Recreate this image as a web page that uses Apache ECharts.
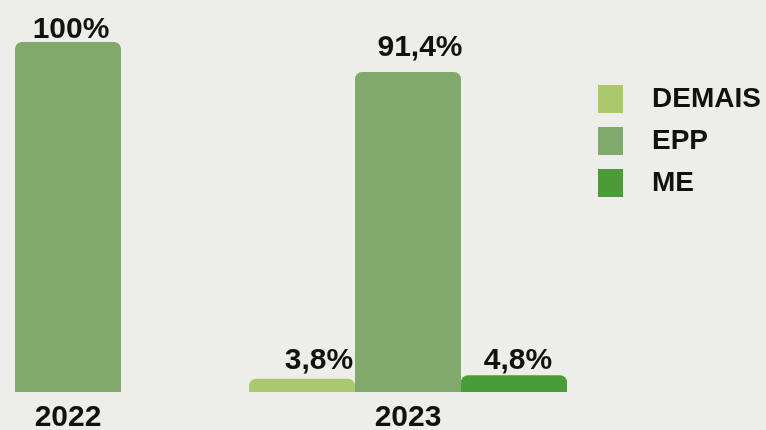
<!DOCTYPE html>
<html>
<head>
<meta charset="utf-8">
<script src="https://cdn.jsdelivr.net/npm/echarts@6/dist/echarts.min.js"></script>
<style>
html,body{margin:0;padding:0;background:#edeee9;}
#c{width:766px;height:430px;}
</style>
</head>
<body>
<div id="c"></div>
<script>
var categories = ['2022', '2023'];
var seriesNames = ['DEMAIS', 'EPP', 'ME'];
var demais = [null, 3.8];
var epp = [100, 91.4];
var me = [null, 4.8];
var colors = ['#a9c96c', '#80a96b', '#4b9c38'];
// label nudges (style only) per series, per category: [dx, dy]
var labelNudges = {
  DEMAIS: [null, [17, -2]],
  EPP: [[3, 4], [12, -8]],
  ME: [null, [4, 2]]
};

var chart = echarts.init(document.getElementById('c'));
var font = '"Liberation Sans", Arial, sans-serif';
function fmt(p) {
  return String(p.value).replace('.', ',') + '%';
}
function mk(name, data, color) {
  var items = data.map(function (v, i) {
    var n = labelNudges[name][i];
    if (v === null) return null;
    return n ? { value: v, label: { offset: n } } : v;
  });
  return {
    name: name,
    type: 'bar',
    data: items,
    barWidth: 106,
    barGap: '0%',
    clip: false,
    itemStyle: { color: color, borderRadius: [7, 7, 0, 0] },
    label: {
      show: true, position: 'top', distance: 1, formatter: fmt,
      fontFamily: font, fontWeight: 'bold', fontSize: 30, color: '#111'
    }
  };
}
chart.setOption({
  backgroundColor: '#edeee9',
  animation: false,
  grid: { left: -102, width: 680, top: 42, bottom: 38, outerBoundsMode: 'none', containLabel: false },
  legend: {
    orient: 'vertical', left: 593, top: 80,
    itemWidth: 25, itemHeight: 28, itemGap: 14,
    icon: 'rect',
    data: seriesNames,
    textStyle: { fontFamily: font, fontWeight: 'bold', fontSize: 28, color: '#111', padding: [0, 0, 0, 24] }
  },
  xAxis: {
    type: 'category', data: categories,
    axisLine: { show: false }, axisTick: { show: false },
    axisLabel: { fontFamily: font, fontWeight: 'bold', fontSize: 30, color: '#111', margin: 11 }
  },
  yAxis: { type: 'value', min: 0, max: 100, show: false, splitLine: { show: false } },
  series: [
    mk(seriesNames[0], demais, colors[0]),
    mk(seriesNames[1], epp, colors[1]),
    mk(seriesNames[2], me, colors[2])
  ]
});
</script>
</body>
</html>
